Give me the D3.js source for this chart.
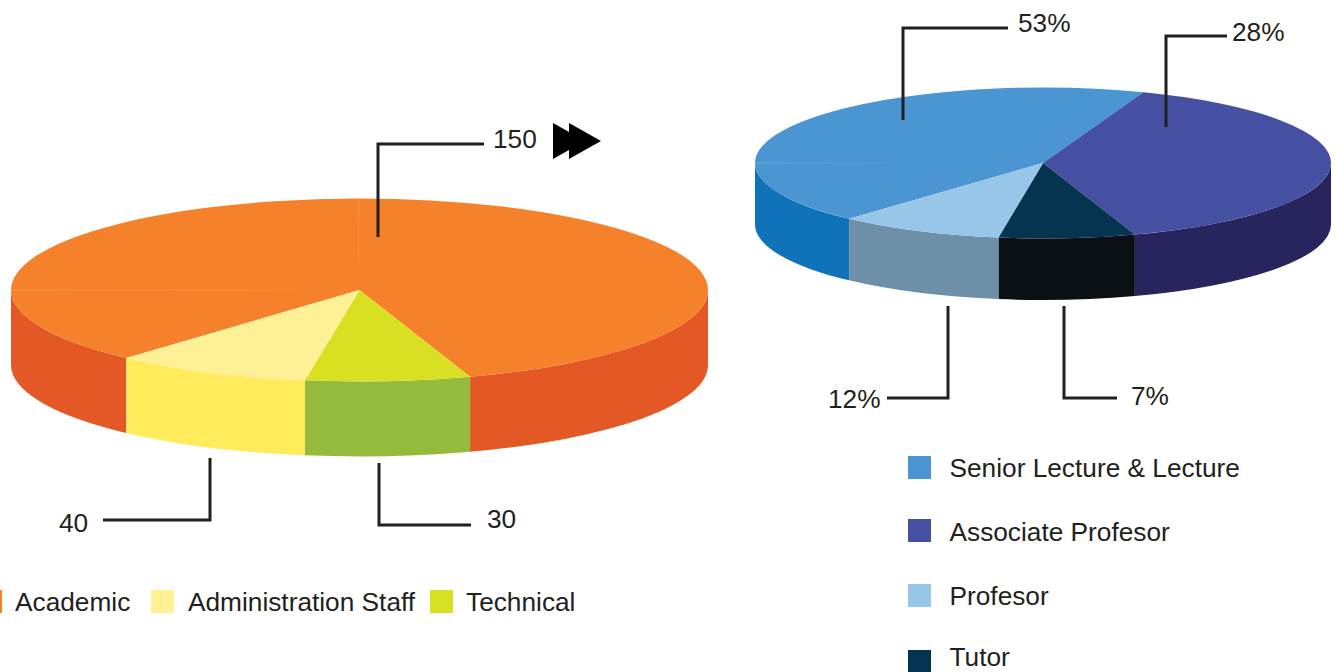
<!DOCTYPE html>
<html>
<head>
<meta charset="utf-8">
<style>
  html, body { margin: 0; padding: 0; background: #fff; overflow: hidden; }
  text { font-family: "Liberation Sans", sans-serif; font-size: 26.25px; fill: #231f20; }
</style>
<script src="https://cdnjs.cloudflare.com/ajax/libs/d3/7.8.5/d3.min.js"></script>
</head>
<body>
<div id="chart"></div>
<script>
const staffCategories = ['Academic', 'Administration Staff', 'Technical']
const staffValues = [150, 40, 30]
// the slices in the picture are not to scale, so the angles are read off it (degrees)
const staffSweep = [299.5, 33, 27.5]
const staffTop = ['#f6812b', '#fdf095', '#d9e021']
const staffSide = ['#e45825', '#ffeb5b', '#95bb3c']

const gradeCategories = ['Senior Lecture & Lecture', 'Associate Profesor', 'Profesor', 'Tutor']
const gradeValues = [53, 28, 12, 7]
const gradeSweep = [158.1, 141, 33.4, 27.5]
const gradeTop = ['#4a95d2', '#4650a2', '#98c6e8', '#053451']
const gradeSide = ['#1072b8', '#28245e', '#6d90a8', '#0a1013']

const width = 1339
const height = 672
const rad = d3.scaleLinear().domain([0, 360]).range([0, 2 * Math.PI])

const svg = d3.select('#chart').append('svg')
  .attr('width', width)
  .attr('height', height)

const defs = svg.append('defs')

function drawPie ({ cx, cy, rx, ry, depth, sweep, order, start, top, side }) {
  const pie = d3.pie()
    .sort(null)
    .value(i => sweep[i])
    .startAngle(rad(start))
    .endAngle(rad(start + 360))
  const slices = pie(order)
  const g = svg.append('g').attr('transform', `translate(${cx},${cy})`)
  const px = a => rx * Math.sin(a)
  const py = a => -ry * Math.cos(a)

  // side wall, only the front half of the rim can be seen
  const front = [[Math.PI / 2, 3 * Math.PI / 2], [5 * Math.PI / 2, 7 * Math.PI / 2]]
  slices.forEach(s => {
    front.forEach(([lo, hi]) => {
      const a0 = Math.max(s.startAngle, lo)
      const a1 = Math.min(s.endAngle, hi)
      if (a1 <= a0) return
      g.append('path')
        .attr('fill', side[s.data])
        .attr('d', `M${px(a0)},${py(a0)}A${rx},${ry} 0 0 1 ${px(a1)},${py(a1)}` +
          `L${px(a1)},${py(a1) + depth}A${rx},${ry} 0 0 0 ${px(a0)},${py(a0) + depth}Z`)
    })
  })

  const arc = d3.arc().innerRadius(0).outerRadius(rx)
  g.append('g')
    .attr('transform', `scale(1,${ry / rx})`)
    .selectAll('path')
    .data(slices)
    .enter()
    .append('path')
    .attr('fill', d => top[d.data])
    .attr('d', arc)
  return g
}

function seam (id, x1, y1, x2, y2, colour) {
  const grad = defs.append('linearGradient')
    .attr('id', id)
    .attr('gradientUnits', 'userSpaceOnUse')
    .attr('x1', x1).attr('y1', y1).attr('x2', x2).attr('y2', y2)
  grad.append('stop').attr('offset', 0).attr('stop-color', colour).attr('stop-opacity', 0.9)
  grad.append('stop').attr('offset', 1).attr('stop-color', colour).attr('stop-opacity', 0)
  svg.append('rect')
    .attr('x', Math.min(x1, x2))
    .attr('y', Math.min(y1, y2))
    .attr('width', Math.max(Math.abs(x2 - x1), 0.7))
    .attr('height', Math.max(Math.abs(y2 - y1), 0.7))
    .attr('fill', `url(#${id})`)
}

function leader (points) {
  svg.append('path')
    .attr('fill', 'none')
    .attr('stroke', '#231f20')
    .attr('stroke-width', 3)
    .attr('d', d3.line()(points))
}

function label (str, x, y) {
  svg.append('text').attr('x', x).attr('y', y).text(str)
}

function legend (x, y, colour, str, textX, textY) {
  svg.append('rect')
    .attr('x', x).attr('y', y)
    .attr('width', 23).attr('height', 23)
    .attr('fill', colour)
  label(str, textX, textY)
}

drawPie({
  cx: 359.5, cy: 290, rx: 348.5, ry: 91.5, depth: 75,
  sweep: staffSweep, order: [0, 2, 1], start: 222,
  top: staffTop, side: staffSide
})
seam('seam-a', 11, 289.6, 358, 289.6, '#f9a86c')
seam('seam-b', 358, 199, 358, 290, '#f9a86c')

drawPie({
  cx: 1043, cy: 163, rx: 288, ry: 75.5, depth: 61.5,
  sweep: gradeSweep, order: [0, 1, 3, 2], start: 222.3,
  top: gradeTop, side: gradeSide
})
seam('seam-c', 755, 162.6, 925, 162.6, '#7db4e0')

// left callouts
leader([[378, 237], [378, 144], [484, 144]])
label(staffValues[0], 493, 148)
leader([[103, 520], [210, 520], [210, 458]])
label(staffValues[1], 59, 532)
leader([[379, 463], [379, 525], [471, 525]])
label(staffValues[2], 487, 528)

// double arrow next to the 150
const triangle = d3.line()
svg.append('path').attr('fill', '#000').attr('d', triangle([[553, 123], [585, 141], [553, 159]]) + 'Z')
svg.append('path').attr('fill', '#000').attr('d', triangle([[569, 123], [601, 141], [569, 159]]) + 'Z')

// right callouts
leader([[903, 120], [903, 28], [1008, 28]])
label(gradeValues[0] + '%', 1018, 32)
leader([[1166, 127], [1166, 36], [1227, 36]])
label(gradeValues[1] + '%', 1232, 41)
leader([[887, 398], [948, 398], [948, 306]])
label(gradeValues[2] + '%', 828, 408)
leader([[1064, 306], [1064, 398], [1117, 398]])
label(gradeValues[3] + '%', 1131, 405)

// legends
legend(-21, 590, staffTop[0], staffCategories[0], 15, 611)
legend(151, 590, staffTop[1], staffCategories[1], 188, 611)
legend(430, 590, staffTop[2], staffCategories[2], 466, 611)

legend(908, 456, gradeTop[0], gradeCategories[0], 949.5, 477)
legend(908, 519, gradeTop[1], gradeCategories[1], 949.5, 541)
legend(908, 584, gradeTop[2], gradeCategories[2], 949.5, 605)
legend(908, 650, gradeTop[3], gradeCategories[3], 949.5, 666.4)
</script>
</body>
</html>
